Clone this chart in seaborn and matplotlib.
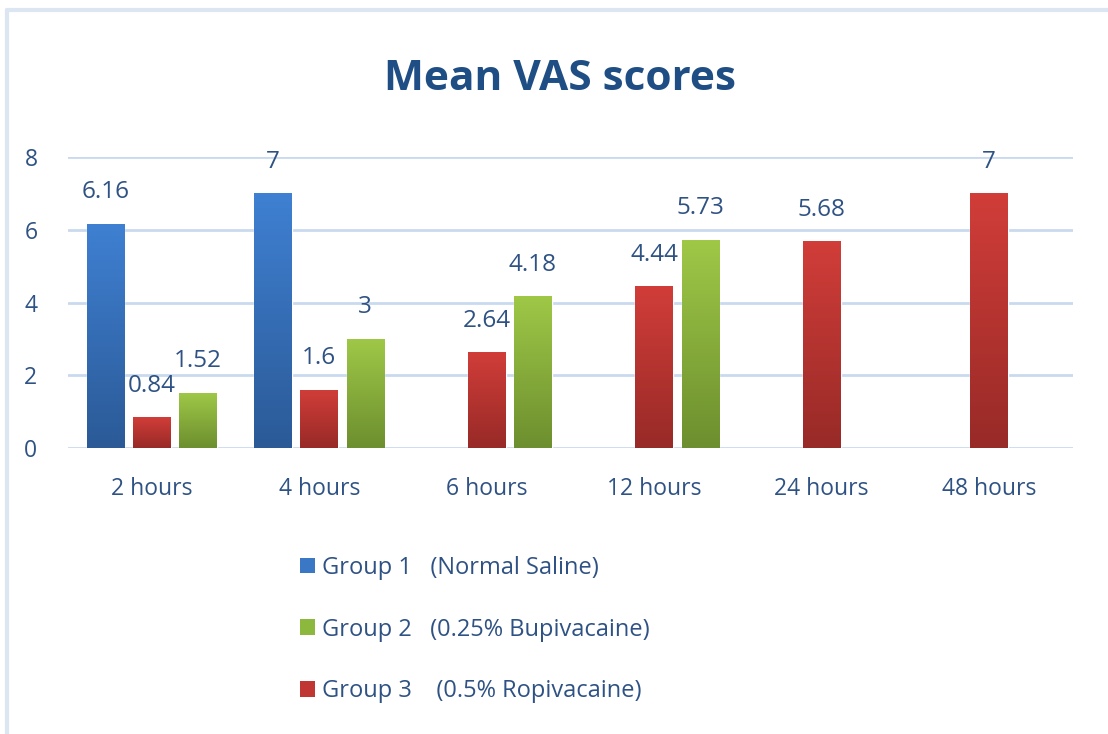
import numpy as np
import pandas as pd
import seaborn as sns
import matplotlib.pyplot as plt
from matplotlib.patches import Patch
from matplotlib.lines import Line2D
from matplotlib.colors import to_rgb

times = ['2 hours', '4 hours', '6 hours', '12 hours', '24 hours', '48 hours']
group1 = [6.16, 7, np.nan, np.nan, np.nan, np.nan]
group2 = [1.52, 3, 4.18, 5.73, np.nan, np.nan]
group3 = [0.84, 1.6, 2.64, 4.44, 5.68, 7]

names = ['Group 1   (Normal Saline)',
         'Group 2   (0.25% Bupivacaine)',
         'Group 3    (0.5% Ropivacaine)']
colors = {names[0]: '#3A78C6', names[1]: '#8DB83E', names[2]: '#C03633'}
# top / bottom of the gradient fill
grad = {names[0]: ('#3F80D2', '#2B5A97'),
        names[1]: ('#9FC847', '#6D8F2F'),
        names[2]: ('#D13D39', '#982A27')}

df = pd.DataFrame({
    'time': times * 3,
    'group': [names[0]] * 6 + [names[1]] * 6 + [names[2]] * 6,
    'score': group1 + group2 + group3,
})

sns.set_theme(style='white')
plt.rcParams['font.family'] = ['Open Sans', 'DejaVu Sans']
txt = '#2F5284'

fig = plt.figure(figsize=(11.08, 7.34), dpi=100)
ax = fig.add_axes([68 / 1108, 1 - 448 / 734, 1005 / 1108, 291 / 734])

hue_order = [names[0], names[2], names[1]]   # blue, red, green side by side
sns.barplot(data=df, x='time', y='score', hue='group', hue_order=hue_order,
            order=times, palette=colors, width=0.825, gap=0.185,
            errorbar=None, legend=False, ax=ax, zorder=3)

# vertical gradient in each bar
for cont, name in zip(ax.containers, hue_order):
    top, bot = to_rgb(grad[name][0]), to_rgb(grad[name][1])
    g = np.linspace(0, 1, 64)[:, None, None]
    img = (1 - g) * np.array(top) + g * np.array(bot)
    for bar in cont:
        x, w, h = bar.get_x(), bar.get_width(), bar.get_height()
        if np.isnan(h):
            continue
        im = ax.imshow(img, extent=[x, x + w, 0, h], aspect='auto',
                       zorder=3.5, interpolation='bilinear')
        im.set_clip_path(bar)
    ax.bar_label(cont, fmt='{:g}', padding=14, fontsize=17.5, color=txt)

ax.set_xlim(-0.5, 5.5)
ax.set_ylim(0, 8)
ax.set_yticks([0, 2, 4, 6, 8])
ax.yaxis.grid(True, color='#C9D9EE', linewidth=2)
ax.set_axisbelow(True)
for s in ax.spines.values():
    s.set_visible(False)
ax.tick_params(axis='x', length=0, pad=21, labelsize=16.5, labelcolor=txt)
ax.tick_params(axis='y', length=0, pad=22, labelsize=16.5, labelcolor=txt)
ax.set_xlabel('')
ax.set_ylabel('')

fig.text(0.505, 1 - 80 / 734, 'Mean VAS scores', ha='center', va='center',
         fontsize=30.5, fontweight='bold', color='#1F4E85')

handles = [Patch(facecolor=colors[n], edgecolor='none') for n in names]
fig.legend(handles, names, loc='upper left',
           bbox_to_anchor=(288 / 1108, 1 - 544 / 734), frameon=False,
           fontsize=17, labelcolor=txt, handlelength=0.65, handleheight=0.65,
           handletextpad=0.3, labelspacing=1.6, borderpad=0)

# light frame on left and top
fig.add_artist(Line2D([7 / 1108, 7 / 1108], [0, 1 - 10 / 734],
                      color='#DCE6F3', linewidth=3))
fig.add_artist(Line2D([7 / 1108, 1], [1 - 10 / 734, 1 - 10 / 734],
                      color='#DCE6F3', linewidth=3))

fig.savefig('out.png', dpi=100)
